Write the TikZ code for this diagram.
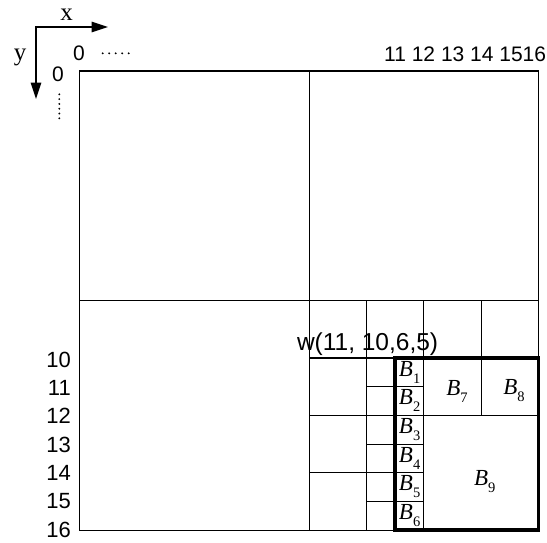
\documentclass[tikz,border=0pt]{standalone}
\usepackage{fontspec}
\setmainfont{Liberation Serif}
\newfontfamily\sansnum{Liberation Sans}
\usetikzlibrary{arrows.meta}
\newcommand{\blab}[1]{{\fontsize{23}{23}\selectfont\itshape B}\raisebox{-7pt}{\fontsize{14.5}{14.5}\selectfont #1}}
\begin{document}
\begin{tikzpicture}[x=1pt,y=-1pt,
  gridline/.style={line width=1.1pt},
  boldbox/.style={line width=3.5pt, line join=miter},
  axisline/.style={line width=1.6pt, line join=miter, {Triangle[length=16.5pt,width=10.5pt]}-{Triangle[length=16.5pt,width=10.5pt]}},
  numlbl/.style={font=\sansnum\fontsize{21}{21}\selectfont, inner sep=0pt},
  rowlbl/.style={font=\sansnum\fontsize{22}{22}\selectfont, inner sep=0pt},
  wlbl/.style={font=\sansnum\fontsize{24.5}{24.5}\selectfont, inner sep=0pt},
  axlbl/.style={font=\fontsize{25}{25}\selectfont, inner sep=0pt},
  blbl/.style={inner sep=0pt},
  dotmark/.style={fill=black}]
\useasboundingbox (0,0) rectangle (547,542);

% axes
\coordinate (corner) at (36,27);
\coordinate (xend) at (108,27);
\coordinate (yend) at (36,99);
\draw[axisline] (xend) -- (corner) -- (yend);
\node[axlbl] (xlab) at (66.5,15) {x};
\node[axlbl] (ylab) at (20,57.5) {y};

% origin labels and dots
\node[numlbl] (zx) at (79,53.5) {0};
\node[numlbl] (zy) at (58,74) {0};
\foreach \i in {0,...,4} \fill[dotmark] (102.7+6.5*\i,53.3) circle (1.05);
\foreach \i in {0,...,5} \fill[dotmark] (59.3,94.3+4.8*\i) circle (1.05);

% top column numbers
\node[numlbl, anchor=base west] (topnums) at (384,61) {11 12 13 14 1516};

% left row numbers
\foreach \k in {10,...,16}
  \node[rowlbl, anchor=base east] (row\k) at (71,{367.3+(\k-10)*28.33}) {\k};

% grid
\begin{scope}[shift={(79.5,71)}, x=28.7pt, y=-28.7pt]
\draw[gridline] (0,0) rectangle (16,16);
\draw[gridline] (8,0) -- (8,16);
\draw[gridline] (0,8) -- (16,8);
\draw[gridline] (10,8) -- (10,16);
\draw[gridline] (12,8) -- (12,16);
\draw[gridline] (14,8) -- (14,12);
\draw[gridline] (8,10) -- (16,10);
\draw[gridline] (8,12) -- (16,12);
\draw[gridline] (8,14) -- (12,14);
\draw[gridline] (10,11) -- (12,11);
\draw[gridline] (10,13) -- (12,13);
\draw[gridline] (10,15) -- (12,15);
\draw[gridline] (11,10) -- (11,16);
\draw[boldbox] (11,10) rectangle (16,16);
\end{scope}

% window label
\node[wlbl, anchor=base west] (wlab) at (296.8,350) {w(11, 10,6,5)};

% block labels
\node[blbl] (b1) at (409.6,372.0) {\blab{1}};
\node[blbl] (b2) at (409.6,400.8) {\blab{2}};
\node[blbl] (b3) at (409.6,429.5) {\blab{3}};
\node[blbl] (b4) at (409.6,458.2) {\blab{4}};
\node[blbl] (b5) at (409.6,486.9) {\blab{5}};
\node[blbl] (b6) at (409.6,515.6) {\blab{6}};
\node[blbl] (b7) at (457,391) {\blab{7}};
\node[blbl] (b8) at (514,391) {\blab{8}};
\node[blbl] (b9) at (484.7,481.5) {\blab{9}};
\end{tikzpicture}
\end{document}
